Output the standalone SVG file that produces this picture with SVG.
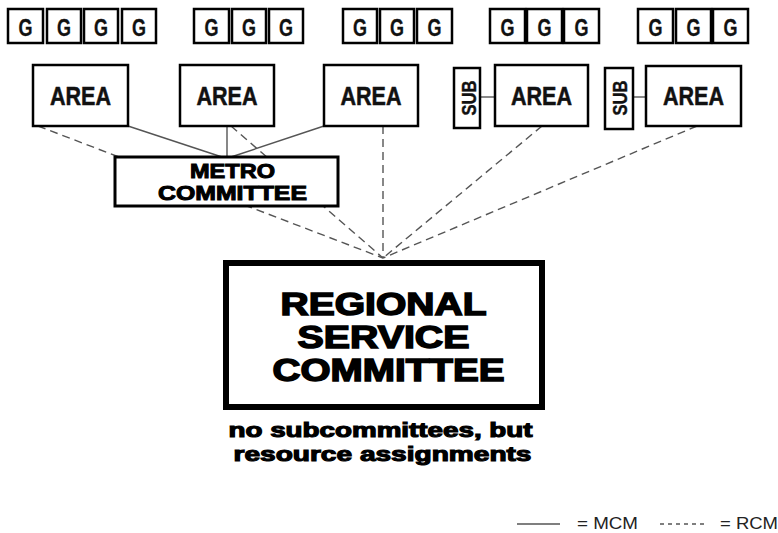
<svg xmlns="http://www.w3.org/2000/svg" width="778" height="533" viewBox="0 0 778 533">
<style>
.box{fill:#fff;stroke:#000;stroke-width:2.5}
.g{font-family:"Liberation Sans",Arial,sans-serif;font-weight:bold;font-size:23px;text-anchor:middle;fill:#111;stroke:#111;stroke-width:0.3}
.area{font-family:"Liberation Sans",Arial,sans-serif;font-weight:bold;font-size:26px;text-anchor:middle;fill:#111;stroke:#111;stroke-width:0.5}
.sub{font-family:"Liberation Sans",Arial,sans-serif;font-weight:bold;font-size:20px;text-anchor:middle;fill:#111;stroke:#111;stroke-width:0.4}
.heavy{font-family:"Liberation Sans",Arial,sans-serif;font-weight:900;text-anchor:middle;fill:#000;stroke:#000}
.solid{stroke:#555;stroke-width:1.4;fill:none}
.dash{stroke:#555;stroke-width:1.4;fill:none;stroke-dasharray:8 5}
.leg{font-family:"Liberation Sans",Arial,sans-serif;font-size:17px;fill:#222}
</style>
<rect width="778" height="533" fill="#fff"/>
<g id="connectors">
<line class="solid" x1="128" y1="126" x2="222" y2="157"/>
<line class="solid" x1="227" y1="126" x2="227" y2="157"/>
<line class="solid" x1="324" y1="126" x2="231" y2="157"/>
<line class="solid" x1="480" y1="97" x2="495" y2="97"/>
<line class="solid" x1="633" y1="97" x2="646" y2="97"/>
<line class="dash" x1="38" y1="126" x2="383" y2="258"/>
<line class="dash" x1="231" y1="126" x2="383" y2="258"/>
<line class="dash" x1="383" y1="126" x2="383" y2="258"/>
<line class="dash" x1="542" y1="126" x2="383" y2="258"/>
<line class="dash" x1="697" y1="126" x2="383" y2="258"/>
</g>
<g id="groups1">
<rect class="box" x="8" y="9" width="35" height="34"/><text class="g" x="25.5" y="36" textLength="14" lengthAdjust="spacingAndGlyphs">G</text>
<rect class="box" x="47" y="9" width="34" height="34"/><text class="g" x="64" y="36" textLength="14" lengthAdjust="spacingAndGlyphs">G</text>
<rect class="box" x="84" y="9" width="34" height="34"/><text class="g" x="101" y="36" textLength="14" lengthAdjust="spacingAndGlyphs">G</text>
<rect class="box" x="122" y="9" width="34" height="34"/><text class="g" x="139" y="36" textLength="14" lengthAdjust="spacingAndGlyphs">G</text>
</g>
<g id="groups2">
<rect class="box" x="194" y="9" width="35" height="34"/><text class="g" x="211.5" y="36" textLength="14" lengthAdjust="spacingAndGlyphs">G</text>
<rect class="box" x="232" y="9" width="34" height="34"/><text class="g" x="249" y="36" textLength="14" lengthAdjust="spacingAndGlyphs">G</text>
<rect class="box" x="269" y="9" width="34" height="34"/><text class="g" x="286" y="36" textLength="14" lengthAdjust="spacingAndGlyphs">G</text>
</g>
<g id="groups3">
<rect class="box" x="343" y="9" width="34" height="34"/><text class="g" x="360" y="36" textLength="14" lengthAdjust="spacingAndGlyphs">G</text>
<rect class="box" x="380" y="9" width="34" height="34"/><text class="g" x="397" y="36" textLength="14" lengthAdjust="spacingAndGlyphs">G</text>
<rect class="box" x="417" y="9" width="35" height="34"/><text class="g" x="434.5" y="36" textLength="14" lengthAdjust="spacingAndGlyphs">G</text>
</g>
<g id="groups4">
<rect class="box" x="490" y="9" width="35" height="34"/><text class="g" x="507.5" y="36" textLength="14" lengthAdjust="spacingAndGlyphs">G</text>
<rect class="box" x="527" y="9" width="35" height="34"/><text class="g" x="544.5" y="36" textLength="14" lengthAdjust="spacingAndGlyphs">G</text>
<rect class="box" x="564" y="9" width="35" height="34"/><text class="g" x="581.5" y="36" textLength="14" lengthAdjust="spacingAndGlyphs">G</text>
</g>
<g id="groups5">
<rect class="box" x="638" y="9" width="35" height="34"/><text class="g" x="655.5" y="36" textLength="14" lengthAdjust="spacingAndGlyphs">G</text>
<rect class="box" x="676" y="9" width="35" height="34"/><text class="g" x="693.5" y="36" textLength="14" lengthAdjust="spacingAndGlyphs">G</text>
<rect class="box" x="713" y="9" width="35" height="34"/><text class="g" x="730.5" y="36" textLength="14" lengthAdjust="spacingAndGlyphs">G</text>
</g>
<g id="area1"><rect class="box" x="33" y="65" width="95" height="61"/><text class="area" x="80.5" y="105" textLength="61" lengthAdjust="spacingAndGlyphs">AREA</text></g>
<g id="area2"><rect class="box" x="180" y="65" width="94" height="61"/><text class="area" x="227" y="105" textLength="61" lengthAdjust="spacingAndGlyphs">AREA</text></g>
<g id="area3"><rect class="box" x="324" y="65" width="94" height="61"/><text class="area" x="371" y="105" textLength="61" lengthAdjust="spacingAndGlyphs">AREA</text></g>
<g id="sub1"><rect class="box" x="454" y="68" width="26" height="60"/><text class="sub" transform="translate(476,98) rotate(-90)" x="0" y="0" textLength="35" lengthAdjust="spacingAndGlyphs">SUB</text></g>
<g id="area4"><rect class="box" x="495" y="65" width="93" height="61"/><text class="area" x="541.5" y="105" textLength="61" lengthAdjust="spacingAndGlyphs">AREA</text></g>
<g id="sub2"><rect class="box" x="605" y="68" width="28" height="61"/><text class="sub" transform="translate(627,98) rotate(-90)" x="0" y="0" textLength="35" lengthAdjust="spacingAndGlyphs">SUB</text></g>
<g id="area5"><rect class="box" x="646" y="66" width="95" height="60"/><text class="area" x="693.5" y="105" textLength="61" lengthAdjust="spacingAndGlyphs">AREA</text></g>
<g id="metro">
<rect class="box" x="115" y="157" width="223" height="49" style="stroke-width:3"/>
<text class="heavy" style="font-size:20px;stroke-width:1" x="232.5" y="178" textLength="85" lengthAdjust="spacingAndGlyphs">METRO</text>
<text class="heavy" style="font-size:20px;stroke-width:1" x="232.5" y="200" textLength="149" lengthAdjust="spacingAndGlyphs">COMMITTEE</text>
</g>
<g id="regional">
<rect x="226" y="263" width="316" height="144" fill="#fff" stroke="#000" stroke-width="6"/>
<text class="heavy" style="font-size:31px;stroke-width:1.5" x="383.5" y="315" textLength="206" lengthAdjust="spacingAndGlyphs">REGIONAL</text>
<text class="heavy" style="font-size:31px;stroke-width:1.5" x="383.5" y="348" textLength="172" lengthAdjust="spacingAndGlyphs">SERVICE</text>
<text class="heavy" style="font-size:31px;stroke-width:1.5" x="388.5" y="381" textLength="232" lengthAdjust="spacingAndGlyphs">COMMITTEE</text>
</g>
<g id="note">
<text class="heavy" style="font-size:20px;stroke-width:1.1" x="380.5" y="437" textLength="304" lengthAdjust="spacingAndGlyphs">no subcommittees, but</text>
<text class="heavy" style="font-size:20px;stroke-width:1.1" x="382.5" y="461" textLength="298" lengthAdjust="spacingAndGlyphs">resource assignments</text>
</g>
<g id="legend">
<line class="solid" x1="517" y1="524" x2="560" y2="524"/>
<text class="leg" x="577" y="529" textLength="61" lengthAdjust="spacingAndGlyphs">= MCM</text>
<line class="solid" x1="660" y1="524" x2="707" y2="524" style="stroke-dasharray:4 4"/>
<text class="leg" x="720" y="529" textLength="58" lengthAdjust="spacingAndGlyphs">= RCM</text>
</g>
</svg>
